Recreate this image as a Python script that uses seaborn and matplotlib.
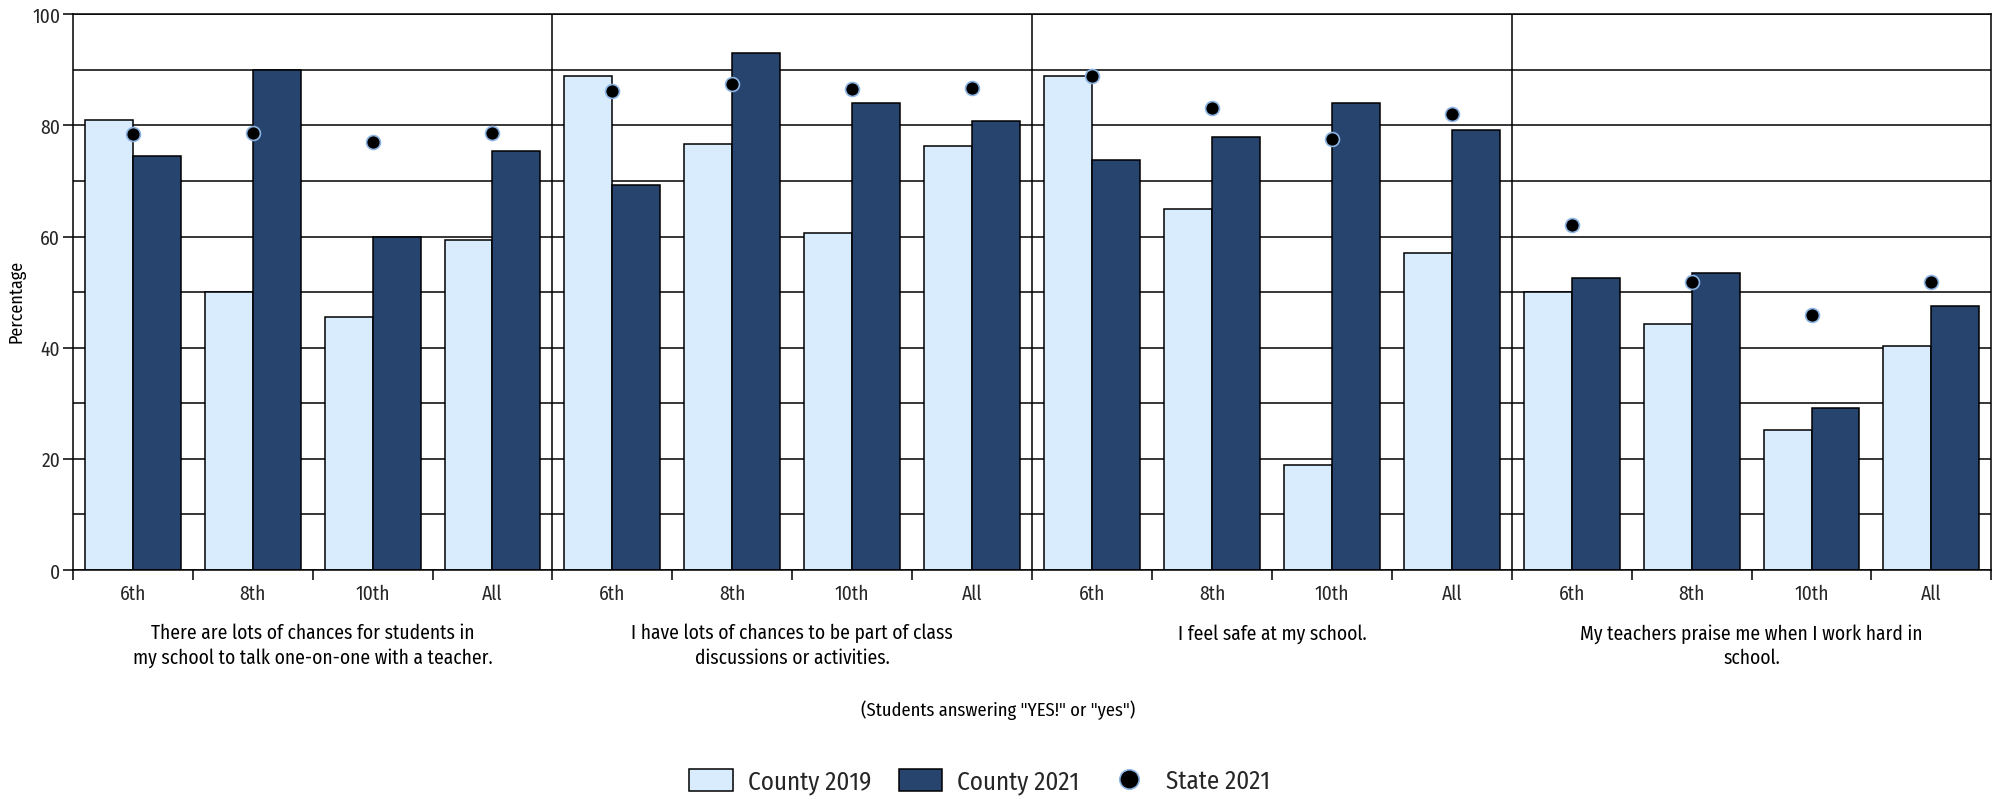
import matplotlib
matplotlib.use("Agg")
import matplotlib.pyplot as plt
import matplotlib.transforms as mtransforms
from matplotlib.patches import Patch
from matplotlib.lines import Line2D
import numpy as np
import pandas as pd
import seaborn as sns

# ---------------- data ----------------
questions = [
    "There are lots of chances for students in\nmy school to talk one-on-one with a teacher.",
    "I have lots of chances to be part of class\ndiscussions or activities.",
    "I feel safe at my school.",
    "My teachers praise me when I work hard in\nschool.",
]
grades = ["6th", "8th", "10th", "All"]
county_2019 = [81.0, 50.0, 45.6, 59.4,
               88.9, 76.6, 60.6, 76.3,
               88.9, 65.0, 18.8, 57.0,
               50.1, 44.3, 25.2, 40.3]
county_2021 = [74.5, 90.0, 60.0, 75.4,
               69.2, 93.0, 84.1, 80.7,
               73.8, 77.9, 84.1, 79.1,
               52.6, 53.5, 29.2, 47.5]
state_2021 = [78.5, 78.7, 77.0, 78.7,
              86.1, 87.5, 86.6, 86.7,
              88.8, 83.2, 77.5, 82.1,
              62.1, 51.9, 45.8, 51.9]
series_names = ["County 2019", "County 2021", "State 2021"]
subtitle = '(Students answering "YES!" or "yes")'

# ---------------- styling ----------------
LIGHT = "#d9ecfd"
DARK = "#26446e"
DOT_EDGE = "#8db4e2"

sns.set_theme(style="white")
plt.rcParams["font.family"] = ["Fira Sans Condensed", "DejaVu Sans"]

keys = [f"{qi}|{g}" for qi in range(len(questions)) for g in grades]
bars_df = pd.DataFrame({
    "key": keys * 2,
    "value": county_2019 + county_2021,
    "series": [series_names[0]] * len(keys) + [series_names[1]] * len(keys),
})
state_df = pd.DataFrame({"key": keys, "value": state_2021})

fig = plt.figure(figsize=(19.99, 8.04), dpi=100)
ax = fig.add_axes([0.0364, 0.290, 0.9598, 0.691])

sns.barplot(data=bars_df, x="key", y="value", hue="series", order=keys,
            hue_order=series_names[:2], palette=[LIGHT, DARK], saturation=1,
            edgecolor="black", linewidth=1.1, width=0.8, legend=False, ax=ax,
            errorbar=None)
sns.stripplot(data=state_df, x="key", y="value", order=keys, jitter=False,
              color="black", size=10, edgecolor=DOT_EDGE, linewidth=1.2,
              ax=ax, zorder=5)

n = len(keys)
ng = len(grades)
ax.set_xlim(-0.5, n - 0.5)
ax.set_ylim(0, 100)

# y axis
ax.set_yticks(np.arange(0, 101, 20))
ax.set_yticks(np.arange(10, 100, 20), minor=True)
ax.tick_params(axis="y", which="major", length=7, width=1.1, color="black",
               labelsize=14, pad=2, left=True)
ax.tick_params(axis="y", which="minor", length=0)
ax.yaxis.grid(True, which="both", color="black", linewidth=1.1)
ax.set_axisbelow(True)
ax.set_ylabel("")

# x axis
ax.set_xticks(np.arange(n))
ax.set_xticklabels(grades * len(questions))
ax.set_xticks(np.arange(-0.5, n, 1.0), minor=True)
ax.tick_params(axis="x", which="major", length=0, labelsize=14, pad=10)
ax.tick_params(axis="x", which="minor", length=7, width=1.1, color="black",
               bottom=True)
ax.set_xlabel("")

for s in ax.spines.values():
    s.set_visible(True)
    s.set_color("black")
    s.set_linewidth(1.1)

for gi in range(1, len(questions)):
    ax.axvline(gi * ng - 0.5, color="black", linewidth=1.1, zorder=0.6)

# group labels
trans = mtransforms.blended_transform_factory(ax.transData, fig.transFigure)
for gi, q in enumerate(questions):
    cx = gi * ng + (ng - 1) / 2
    ax.text(cx, 0.224, q, transform=trans, ha="center", va="top",
            fontsize=14, linespacing=1.3, color="black")

fig.text(0.0085, 0.625, "Percentage", rotation=90, ha="center", va="center",
         fontsize=13, color="black")
fig.text(0.4995, 0.117, subtitle, ha="center", va="center", fontsize=13.3,
         color="black")

handles = [
    Patch(facecolor=LIGHT, edgecolor="black", linewidth=1.1),
    Patch(facecolor=DARK, edgecolor="black", linewidth=1.1),
    Line2D([], [], linestyle="none", marker="o", markersize=14,
           markerfacecolor="black", markeredgecolor=DOT_EDGE,
           markeredgewidth=1.2),
]
fig.legend(handles, series_names, loc="center", bbox_to_anchor=(0.49, 0.027),
           ncol=3, frameon=False, fontsize=18, handlelength=1.75,
           handleheight=1.0, handletextpad=0.6, columnspacing=1.1)

fig.savefig("out.png", dpi=100)
